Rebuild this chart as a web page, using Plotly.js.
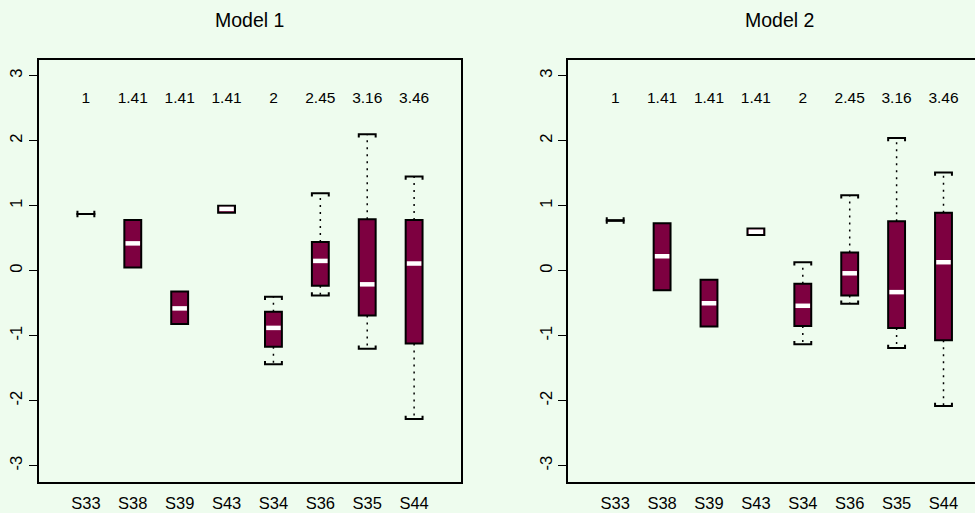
<!DOCTYPE html>
<html>
<head>
<meta charset="utf-8">
<script src="https://cdn.plot.ly/plotly-3.0.1.min.js"></script>
<style>html,body{margin:0;padding:0;background:#eefcee;}#chart{width:975px;height:513px;}</style>
</head>
<body>
<div id="chart"></div>
<script>
// ---- data ----
const categories = ['S33','S38','S39','S43','S34','S36','S35','S44'];
const sizeLabels = ['1','1.41','1.41','1.41','2','2.45','3.16','3.46'];
const yTickValues = [-3, -2, -1, 0, 1, 2, 3];
const yTickLabels = ['-3', '-2', '-1', '0', '1', '2', '3'];

const m1Lower  = [0.87, 0.05, -0.82, 0.89, -1.44, -0.38, -1.20, -2.28];
const m1Q1     = [0.87, 0.05, -0.82, 0.89, -1.17, -0.23, -0.69, -1.12];
const m1Median = [0.87, 0.42, -0.58, 0.95, -0.88,  0.15, -0.21,  0.11];
const m1Q3     = [0.87, 0.78, -0.32, 1.00, -0.63,  0.44,  0.79,  0.78];
const m1Upper  = [0.87, 0.78, -0.32, 1.00, -0.40,  1.19,  2.10,  1.45];

const m2Lower  = [0.77, -0.30, -0.86, 0.55, -1.13, -0.51, -1.19, -2.08];
const m2Q1     = [0.77, -0.30, -0.86, 0.55, -0.85, -0.38, -0.88, -1.07];
const m2Median = [0.77,  0.22, -0.50, 0.60, -0.54, -0.04, -0.33,  0.13];
const m2Q3     = [0.77,  0.73, -0.14, 0.65, -0.20,  0.28,  0.76,  0.89];
const m2Upper  = [0.77,  0.73, -0.14, 0.65,  0.13,  1.16,  2.04,  1.51];

const panelTitles = ['Model 1', 'Model 2'];

// ---- styling ----
const BG = '#eefcee';
const BOX = '#7d0040';
const FONT = 'Liberation Sans, Arial, sans-serif';
const LABEL_Y = 2.64;
const HALF = 0.18;       // half box width (data units)
const CAPTICK = 0.05;    // staple end tick (data units)

const positions = categories.map((c, i) => i + 1);

function panelTraces(lower, q1, med, q3, upper, xa, ya) {
  const traces = [];
  // whiskers
  const wx = [], wy = [];
  positions.forEach((p, i) => {
    if (upper[i] > q3[i]) { wx.push(p, p, null); wy.push(q3[i], upper[i], null); }
    if (lower[i] < q1[i]) { wx.push(p, p, null); wy.push(q1[i], lower[i], null); }
  });
  traces.push({type:'scatter', mode:'lines', x:wx, y:wy, xaxis:xa, yaxis:ya,
    line:{color:'black', width:1.5, dash:'2px,5px'}, hoverinfo:'skip', showlegend:false});
  // boxes
  const bw = positions.map(() => 2*HALF);
  traces.push({type:'bar', x:positions, base:q1, y:q3.map((v,i)=>v-q1[i]), width:bw,
    xaxis:xa, yaxis:ya, marker:{color:BOX, line:{color:'black', width:2}},
    hoverinfo:'skip', showlegend:false});
  // medians
  const mx = [], my = [];
  positions.forEach((p, i) => {
    if (q3[i] > q1[i]) { mx.push(p-HALF+0.025, p+HALF-0.025, null); my.push(med[i], med[i], null); }
  });
  traces.push({type:'scatter', mode:'lines', x:mx, y:my, xaxis:xa, yaxis:ya,
    line:{color:'white', width:4.5}, hoverinfo:'skip', showlegend:false});
  // staples (bracket shaped)
  const sx = [], sy = [];
  positions.forEach((p, i) => {
    if (upper[i] > q3[i] || q3[i] === q1[i]) {
      sx.push(p-HALF, p-HALF, p+HALF, p+HALF, null);
      sy.push(upper[i]-CAPTICK, upper[i], upper[i], upper[i]-CAPTICK, null);
    }
    if (lower[i] < q1[i] || q3[i] === q1[i]) {
      sx.push(p-HALF, p-HALF, p+HALF, p+HALF, null);
      sy.push(lower[i]+CAPTICK, lower[i], lower[i], lower[i]+CAPTICK, null);
    }
  });
  traces.push({type:'scatter', mode:'lines', x:sx, y:sy, xaxis:xa, yaxis:ya,
    line:{color:'black', width:2}, hoverinfo:'skip', showlegend:false});
  // size labels
  traces.push({type:'scatter', mode:'text', x:positions, y:positions.map(()=>LABEL_Y),
    text:sizeLabels, textposition:'middle center', xaxis:xa, yaxis:ya,
    textfont:{family:FONT, size:15.5, color:'black'}, hoverinfo:'skip', showlegend:false});
  return traces;
}

const data = [
  ...panelTraces(m1Lower, m1Q1, m1Median, m1Q3, m1Upper, 'x', 'y'),
  ...panelTraces(m2Lower, m2Q1, m2Median, m2Q3, m2Upper, 'x2', 'y2')
];

const yDomain = [1 - 482/513, 1 - 60/513];
const xCommon = {
  tickvals: positions, ticktext: categories, ticks: 'outside', ticklen:5, tickcolor:'rgba(0,0,0,0)',
  showgrid:false, zeroline:false,
  showline:true, mirror:true, linecolor:'black', linewidth:2,
  tickfont:{family:FONT, size:16.5, color:'black'}, fixedrange:true
};
const yCommon = {
  range:[-3.25, 3.24], domain:yDomain, tickmode:'array', tickvals:yTickValues, ticktext:yTickLabels,
  ticks:'outside', ticklen:8, tickwidth:1.5, tickcolor:'black', tickangle:-90,
  showgrid:false, zeroline:false, showline:true, linecolor:'black', linewidth:2,
  tickfont:{family:FONT, size:16.5, color:'black'}, fixedrange:true
};

const layout = {
  width:975, height:513,
  margin:{l:0, r:0, t:0, b:0},
  paper_bgcolor:BG, plot_bgcolor:BG,
  showlegend:false, barmode:'overlay',
  xaxis: Object.assign({}, xCommon, {domain:[39/975, 461/975], range:[0, 9], anchor:'y'}),
  yaxis: Object.assign({}, yCommon, {anchor:'x', mirror:true}),
  xaxis2: Object.assign({}, xCommon, {domain:[568.3/975, 1], range:[0, (975-568.3)/46.9], anchor:'y2'}),
  yaxis2: Object.assign({}, yCommon, {anchor:'x2', mirror:false}),
  annotations: [
    {text:panelTitles[0], xref:'paper', yref:'paper', x:250/975, y:1-20/513, xanchor:'center', yanchor:'middle',
     showarrow:false, font:{family:FONT, size:19.5, color:'black'}},
    {text:panelTitles[1], xref:'paper', yref:'paper', x:779/975, y:1-20/513, xanchor:'center', yanchor:'middle',
     showarrow:false, font:{family:FONT, size:19.5, color:'black'}}
  ]
};

Plotly.newPlot('chart', data, layout, {staticPlot:true, displayModeBar:false});
</script>
</body>
</html>
